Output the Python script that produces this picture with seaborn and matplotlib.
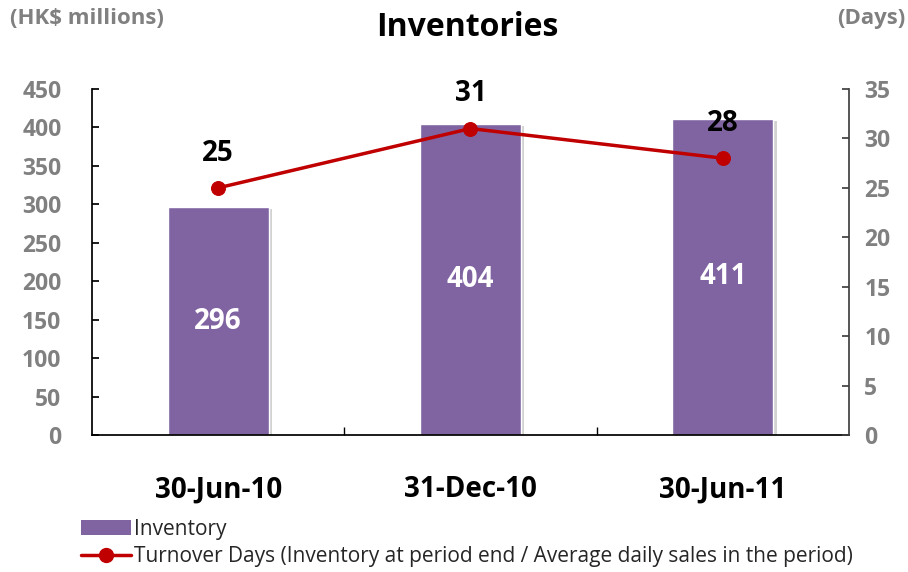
import numpy as np
import pandas as pd
import matplotlib
matplotlib.use("Agg")
import matplotlib.pyplot as plt
import matplotlib.patheffects as pe
import seaborn as sns
from matplotlib.lines import Line2D
from matplotlib.patches import Patch

# data
periods = ["30-Jun-10", "31-Dec-10", "30-Jun-11"]
inventory = [296, 404, 411]
turnover_days = [25, 31, 28]

BAR = "#8064A2"
RED = "#C00000"
GREY = "#808080"

sns.set_theme(style="white")
plt.rcParams['font.family'] = ['Open Sans', 'DejaVu Sans']

df = pd.DataFrame({"Period": periods, "Inventory": inventory, "Days": turnover_days})

fig = plt.figure(figsize=(9.08, 5.72), dpi=100)
ax = fig.add_axes([0.1013, 0.2395, 0.8337, 0.6049])

sns.barplot(data=df, x="Period", y="Inventory", color=BAR, width=0.40,
            saturation=1, ax=ax, zorder=2)
# soft drop shadow like the original
for bar in ax.patches:
    bar.set_path_effects([pe.SimplePatchShadow(offset=(2.5, -1.5), shadow_rgbFace="#808080",
                                               alpha=0.35), pe.Normal()])
ax.set_xlim(-0.5, 2.5)
ax.set_ylim(0, 450)
ax.set_yticks(np.arange(0, 451, 50))
ax.set_xticks([0.5, 1.5], minor=True)
ax.set_xlabel("")
ax.set_ylabel("")

for i, v in enumerate(inventory):
    ax.text(i, v / 2, str(v), ha="center", va="center", color="white",
            fontsize=20, fontweight="bold")

ax2 = ax.twinx()
sns.lineplot(x=np.arange(len(periods)), y=turnover_days, color=RED, lw=2.5,
             marker="o", markersize=10, markeredgecolor=RED, ax=ax2, zorder=3)
ax2.set_ylim(0, 35)
ax2.set_yticks(np.arange(0, 36, 5))
ax2.set_xlim(-0.5, 2.5)
for i, d in enumerate(turnover_days):
    ax2.annotate(str(d), (i, d), xytext=(0, 25), textcoords="offset points",
                 ha="center", va="center", fontsize=20, fontweight="bold", color="black")

for a in (ax, ax2):
    for s in a.spines.values():
        s.set_visible(False)
ax.spines["left"].set_visible(True)
ax.spines["bottom"].set_visible(True)
ax2.spines["right"].set_visible(True)
ax.spines["left"].set_color("black")
ax.spines["bottom"].set_color("black")
ax2.spines["right"].set_color("#404040")

ax.tick_params(axis="y", direction="in", length=5, left=True, colors="black",
               labelcolor=GREY, labelsize=16.5, pad=22)
ax.tick_params(axis="x", which="major", bottom=False, labelsize=20, pad=23,
               labelcolor="black")
ax.tick_params(axis="x", which="minor", direction="in", length=6, bottom=True, color="black")
ax2.tick_params(axis="y", direction="in", length=5, right=True, colors="#404040",
                labelcolor=GREY, labelsize=16.5, pad=11)
for lab in ax.get_yticklabels() + ax2.get_yticklabels():
    lab.set_fontweight("bold")
for lab in ax.get_xticklabels():
    lab.set_fontweight("bold")

fig.text(0.515, 0.952, "Inventories", ha="center", va="center", fontsize=23,
         fontweight="bold", color="black")
fig.text(0.011, 0.968, "(HK$ millions)", ha="left", va="center", fontsize=16,
         fontweight="bold", color=GREY)
fig.text(0.997, 0.968, "(Days)", ha="right", va="center", fontsize=16,
         fontweight="bold", color=GREY)

handles = [Patch(facecolor=BAR, edgecolor="none"),
           Line2D([0], [0], color=RED, lw=2.5, marker="o", markersize=10)]
labels = ["Inventory",
          "Turnover Days (Inventory at period end / Average daily sales in the period)"]
fig.legend(handles, labels, loc="lower left", bbox_to_anchor=(0.0755, -0.013),
           frameon=False, fontsize=15, handlelength=2.4, handletextpad=0.16,
           labelspacing=0.3, borderaxespad=0.2)

fig.savefig("out.png", dpi=100)
